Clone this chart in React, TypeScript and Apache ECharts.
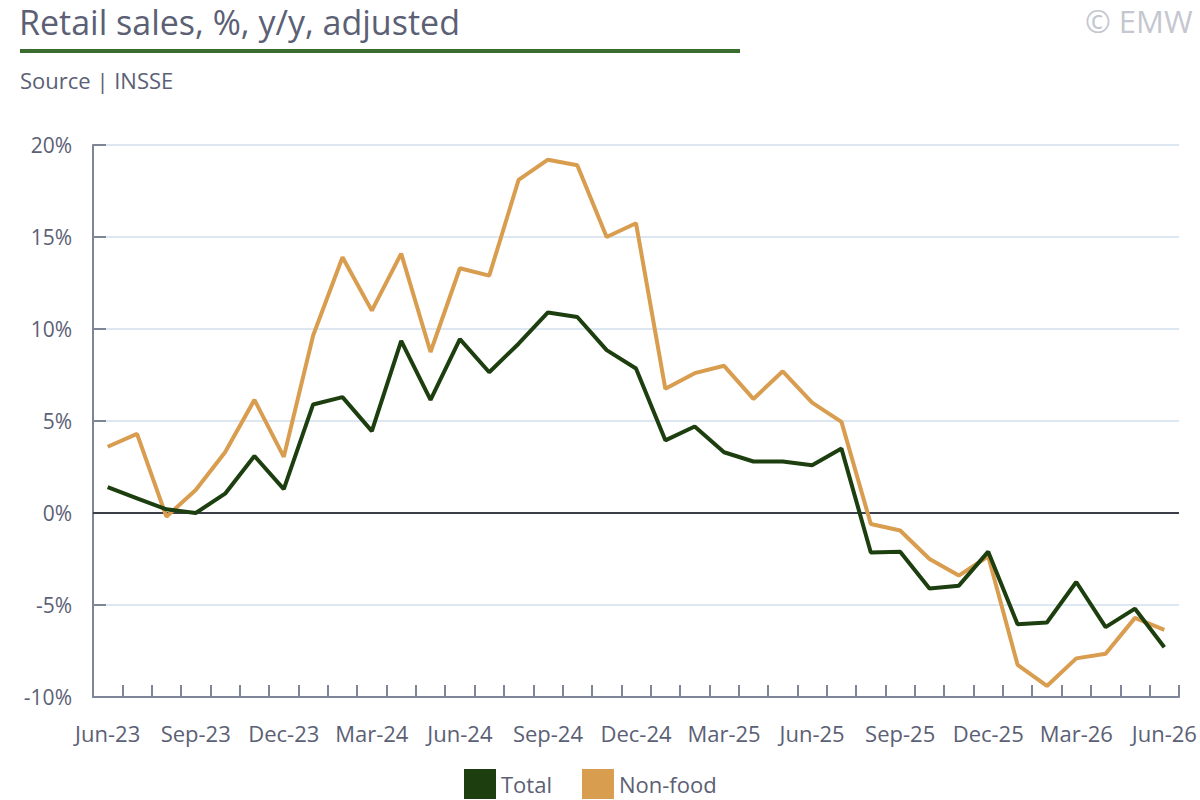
import React, { useEffect, useRef } from "react";
import * as echarts from "echarts";

const months = [
  "Jun-23","Jul-23","Aug-23","Sep-23","Oct-23","Nov-23","Dec-23","Jan-24","Feb-24","Mar-24","Apr-24","May-24",
  "Jun-24","Jul-24","Aug-24","Sep-24","Oct-24","Nov-24","Dec-24","Jan-25","Feb-25","Mar-25","Apr-25","May-25",
  "Jun-25","Jul-25","Aug-25","Sep-25","Oct-25","Nov-25","Dec-25","Jan-26","Feb-26","Mar-26","Apr-26","May-26","Jun-26",
];

const totalValues = [
  1.4, 0.8, 0.2, 0.0, 1.05, 3.1, 1.3, 5.9, 6.3, 4.45, 9.35, 6.15,
  9.45, 7.65, 9.2, 10.9, 10.65, 8.85, 7.85, 3.95, 4.7, 3.3, 2.8, 2.8,
  2.6, 3.5, -2.15, -2.1, -4.1, -3.95, -2.1, -6.05, -5.95, -3.75, -6.2, -5.2, -7.3,
];

const nonFoodValues = [
  3.6, 4.3, -0.2, 1.25, 3.3, 6.15, 3.05, 9.65, 13.9, 11.0, 14.1, 8.75,
  13.3, 12.9, 18.1, 19.2, 18.9, 15.0, 15.75, 6.75, 7.6, 8.0, 6.2, 7.7,
  6.0, 4.95, -0.6, -0.95, -2.5, -3.4, -2.35, -8.25, -9.4, -7.9, -7.65, -5.7, -6.35,
];

const seriesNames = ["Total", "Non-food"];
const seriesColors = ["#1d3f10", "#d99d4f"];

const FONT = "'Open Sans', Lato, sans-serif";
const TEXT = "#5b6075";
const AXIS = "#7d8699";

export default function App() {
  const ref = useRef<HTMLDivElement>(null);
  useEffect(() => {
    if (!ref.current) return;
    const chart = echarts.init(ref.current, undefined, { renderer: "svg" });
    chart.setOption({
      animation: false,
      backgroundColor: "#ffffff",
      textStyle: { fontFamily: FONT },
      grid: { left: 93, right: 21, top: 145, bottom: 103, containLabel: false },
      graphic: [
        {
          type: "text",
          left: 19,
          top: 5,
          style: { text: "Retail sales, %, y/y, adjusted", fontSize: 34, fill: TEXT, fontFamily: FONT },
        },
        { type: "rect", shape: { x: 20, y: 49, width: 720, height: 4 }, style: { fill: "#3a6b2f" } },
        {
          type: "text",
          left: 20,
          top: 69,
          style: { text: "Source | INSSE", fontSize: 22, fill: TEXT, fontFamily: FONT },
        },
        {
          type: "text",
          x: 1085,
          y: 5,
          style: { text: "© EMW", fontSize: 31, fill: "#c4c7cf", fontFamily: FONT },
        },
      ],
      legend: {
        left: 459,
        top: 764,
        itemWidth: 32,
        itemHeight: 30,
        itemGap: 30,
        icon: "rect",
        textStyle: { fontSize: 22, color: TEXT, fontFamily: FONT, padding: [0, 0, 0, 0] },
        data: seriesNames,
      },
      xAxis: {
        type: "category",
        data: months,
        boundaryGap: true,
        axisLine: { show: true, onZero: false, lineStyle: { color: AXIS, width: 2 } },
        axisTick: { show: true, inside: true, length: 12, interval: 0, lineStyle: { color: AXIS, width: 2 } },
        axisLabel: { interval: 2, fontSize: 22, color: TEXT, margin: 25, fontFamily: FONT },
        splitLine: { show: false },
      },
      yAxis: {
        type: "value",
        min: -10,
        max: 20,
        interval: 5,
        axisLine: { show: true, lineStyle: { color: AXIS, width: 2 } },
        axisTick: { show: true, inside: true, length: 13, lineStyle: { color: AXIS, width: 2 } },
        axisLabel: { formatter: "{value}%", fontSize: 21, color: TEXT, margin: 21, fontFamily: FONT },
        splitLine: { show: true, lineStyle: { color: "#dde7f2", width: 2 } },
      },
      series: [
        {
          name: seriesNames[0],
          type: "line",
          data: totalValues,
          color: seriesColors[0],
          showSymbol: false,
          symbol: "none",
          lineStyle: { width: 4, color: seriesColors[0] },
          z: 4,
          markLine: {
            silent: true,
            symbol: "none",
            label: { show: false },
            lineStyle: { color: "#3b3e49", width: 2, type: "solid" },
            data: [{ yAxis: 0 }],
            z: 1,
          },
        },
        {
          name: seriesNames[1],
          type: "line",
          data: nonFoodValues,
          color: seriesColors[1],
          showSymbol: false,
          symbol: "none",
          lineStyle: { width: 4, color: seriesColors[1] },
          z: 3,
        },
      ],
    });
    return () => chart.dispose();
  }, []);
  return (
    <div
      ref={ref}
      style={{ position: "fixed", left: 0, top: 0, width: 1200, height: 800 }}
    />
  );
}
